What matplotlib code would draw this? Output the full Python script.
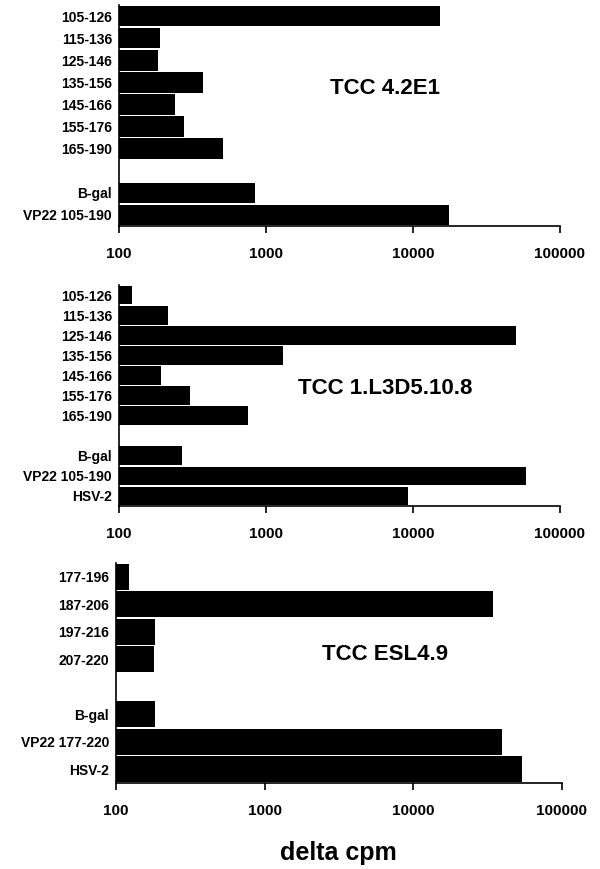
import matplotlib.pyplot as plt
import numpy as np

plt.rcParams['font.family'] = ['Liberation Sans', 'DejaVu Sans']
plt.rcParams['font.weight'] = 'bold'

# panel 1 - TCC 4.2E1
labels1 = ['105-126', '115-136', '125-146', '135-156', '145-166', '155-176', '165-190',
           '', 'B-gal', 'VP22 105-190']
vals1 = [15300, 191, 185, 373, 240, 275, 510, 0, 845, 17500]

# panel 2 - TCC 1.L3D5.10.8
labels2 = ['105-126', '115-136', '125-146', '135-156', '145-166', '155-176', '165-190',
           '', 'B-gal', 'VP22 105-190', 'HSV-2']
vals2 = [123, 217, 50000, 1300, 194, 302, 760, 0, 267, 58600, 9200]

# panel 3 - TCC ESL4.9
labels3 = ['177-196', '187-206', '197-216', '207-220', '', 'B-gal', 'VP22 177-220', 'HSV-2']
vals3 = [123, 34300, 184, 181, 0, 184, 39300, 54200]

titles = ['TCC 4.2E1', 'TCC 1.L3D5.10.8', 'TCC ESL4.9']
xticks = [100, 1000, 10000, 100000]

fig = plt.figure(figsize=(6, 8.69), dpi=100)

# [left, bottom, width, height] in figure fractions
boxes = [[0.1983, 0.7399, 0.735, 0.2543],
         [0.1983, 0.4177, 0.735, 0.2543],
         [0.1933, 0.0990, 0.7433, 0.2531]]
text_pos = [(0.603, 0.624), (0.603, 0.534), (0.603, 0.582)]

panels = [(labels1, vals1), (labels2, vals2), (labels3, vals3)]

for i in range(3):
    labels, vals = panels[i]
    ax = fig.add_axes(boxes[i])
    pos = np.arange(len(labels))
    v = np.array(vals, dtype=float)
    keep = v > 0
    ax.barh(pos[keep], v[keep] - 100, left=100, height=0.93, color='black')
    ax.set_xscale('log')
    ax.set_xlim(100, 100000)
    ax.set_ylim(len(labels) - 0.5, -0.5)
    ax.set_yticks(pos[keep])
    ax.set_yticklabels([labels[j] for j in pos[keep]], fontsize=10, fontweight='bold')
    ax.set_xticks(xticks)
    ax.set_xticklabels([str(t) for t in xticks], fontsize=11, fontweight='bold')
    ax.xaxis.set_minor_locator(plt.NullLocator())
    ax.tick_params(axis='y', length=0, pad=5)
    ax.tick_params(axis='x', length=5, width=1.2, pad=10)
    ax.spines['top'].set_visible(False)
    ax.spines['right'].set_visible(False)
    ax.spines['left'].set_linewidth(1.2)
    ax.spines['bottom'].set_linewidth(1.2)
    ax.text(text_pos[i][0], text_pos[i][1], titles[i], transform=ax.transAxes,
            ha='center', va='center', fontsize=16, fontweight='bold')

fig.text(338 / 600, 1 - 853 / 869, 'delta cpm', ha='center', va='center',
         fontsize=18, fontweight='bold')

fig.savefig('out.png', dpi=100)
